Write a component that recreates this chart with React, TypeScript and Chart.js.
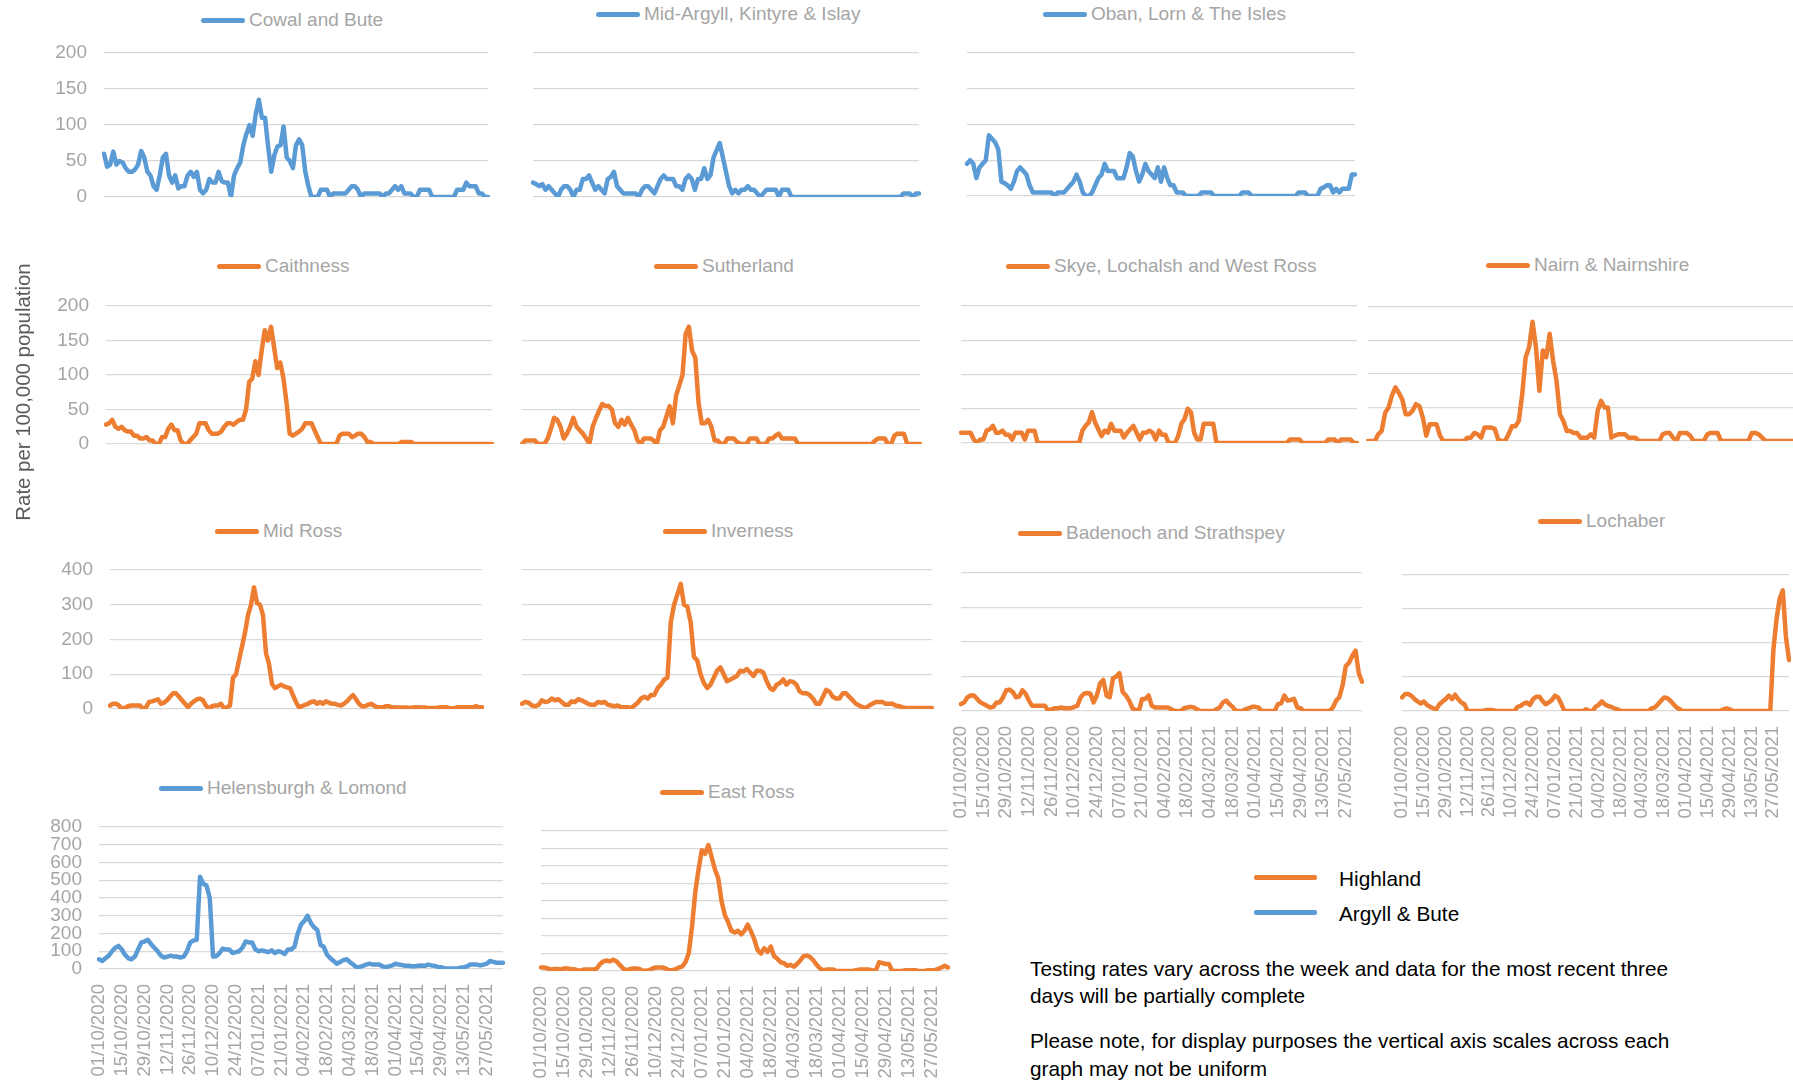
import React, { useEffect, useRef } from "react";
import { Chart, registerables } from "chart.js";

Chart.register(...registerables);

const FONT = '"Liberation Sans", Arial, Helvetica, sans-serif';
Chart.defaults.font.family = FONT;

const BLUE = "#5B9BD5";
const ORANGE = "#ED7D31";
const GRAY_TEXT = "#A5A5A5";
const GRID = "#D9D9D9";

// ---- categories: dates every 2 days from 01/10/2020 ----
const FIRST_DAY = Date.UTC(2020, 9, 1);
const DAY_STEP = 2;
const N_POINTS = 125;
const TICK_EVERY = 7; // fortnightly labels
const pad2 = (n: number) => String(n).padStart(2, "0");
const dateLabels: string[] = Array.from({ length: N_POINTS }, (_, i) => {
  const d = new Date(FIRST_DAY + i * DAY_STEP * 86400000);
  return `${pad2(d.getUTCDate())}/${pad2(d.getUTCMonth() + 1)}/${d.getUTCFullYear()}`;
});

// ---- series (rate per 100,000 population) ----
const cowalBute = [
  60, 42, 45, 63, 45, 50, 48, 40, 35, 35,
  38, 45, 64, 55, 35, 30, 15, 10, 30, 55,
  60, 30, 20, 30, 12, 15, 15, 30, 35, 28,
  35, 10, 5, 10, 25, 20, 20, 35, 22, 20,
  20, 0, 30, 40, 48, 72, 88, 100, 85, 115,
  135, 110, 110, 70, 35, 58, 70, 72, 98, 55,
  50, 40, 72, 80, 72, 35, 15, 0, 0, 0,
  10, 10, 10, 0, 5, 5, 5, 5, 5, 10,
  15, 15, 10, 0, 5, 5, 5, 5, 5, 5,
  0, 5, 5, 10, 15, 10, 15, 5, 5, 5,
  0, 0, 10, 10, 10, 10, 0, 0, 0, 0,
  0, 0, 0, 0, 10, 10, 10, 20, 15, 15,
  15, 5, 5, 0, 0,
];
const midArgyll = [
  20, 18, 15, 18, 10, 15, 10, 5, 0, 10,
  15, 15, 10, 0, 10, 10, 25, 25, 30, 20,
  10, 15, 10, 5, 25, 28, 35, 15, 10, 5,
  5, 5, 5, 5, 0, 10, 15, 15, 10, 5,
  15, 25, 30, 25, 25, 25, 15, 15, 10, 25,
  30, 25, 10, 25, 25, 40, 25, 30, 55, 65,
  75, 55, 35, 15, 5, 10, 5, 10, 10, 15,
  10, 10, 5, 0, 5, 10, 10, 10, 10, 0,
  10, 10, 10, 0, 0, 0, 0, 0, 0, 0,
  0, 0, 0, 0, 0, 0, 0, 0, 0, 0,
  0, 0, 0, 0, 0, 0, 0, 0, 0, 0,
  0, 0, 0, 0, 0, 0, 0, 0, 0, 5,
  5, 5, 0, 5, 5,
];
const obanLorn = [
  45, 50, 45, 25, 40, 45, 50, 85, 80, 75,
  65, 20, 18, 15, 10, 20, 35, 40, 35, 30,
  15, 5, 5, 5, 5, 5, 5, 5, 0, 5,
  5, 5, 10, 15, 20, 30, 20, 5, 0, 0,
  5, 15, 25, 30, 45, 35, 35, 35, 25, 25,
  25, 40, 60, 55, 35, 20, 30, 45, 35, 30,
  25, 40, 20, 40, 25, 15, 15, 5, 5, 5,
  0, 0, 0, 0, 0, 5, 5, 5, 5, 0,
  0, 0, 0, 0, 0, 0, 0, 0, 5, 5,
  5, 0, 0, 0, 0, 0, 0, 0, 0, 0,
  0, 0, 0, 0, 0, 0, 5, 5, 5, 0,
  0, 0, 0, 10, 12, 15, 15, 5, 10, 5,
  10, 10, 10, 30, 30,
];
const caithness = [
  28, 30, 35, 25, 22, 25, 20, 18, 18, 12,
  12, 8, 8, 10, 5, 5, 0, 0, 10, 10,
  22, 28, 20, 20, 5, 0, 0, 5, 10, 15,
  30, 30, 30, 20, 15, 15, 15, 18, 25, 30,
  30, 28, 32, 35, 35, 50, 90, 95, 120, 100,
  135, 165, 150, 170, 140, 110, 118, 95, 60, 15,
  12, 15, 18, 22, 30, 30, 30, 20, 10, 0,
  0, 0, 0, 0, 0, 12, 15, 15, 15, 10,
  12, 15, 15, 10, 3, 3, 0, 0, 0, 0,
  0, 0, 0, 0, 0, 3, 3, 3, 3, 0,
  0, 0, 0, 0, 0, 0, 0, 0, 0, 0,
  0, 0, 0, 0, 0, 0, 0, 0, 0, 0,
  0, 0, 0, 0, 0,
];
const sutherland = [
  0, 5, 5, 5, 5, 0, 0, 0, 8, 22,
  38, 35, 25, 8, 15, 25, 38, 25, 20, 15,
  8, 0, 25, 37, 48, 58, 55, 55, 50, 30,
  25, 35, 28, 38, 28, 20, 5, 0, 8, 8,
  8, 5, 0, 20, 25, 40, 55, 30, 70, 85,
  100, 160, 170, 135, 125, 60, 30, 30, 35, 25,
  5, 5, 0, 0, 8, 8, 8, 3, 0, 0,
  0, 8, 8, 8, 0, 0, 0, 8, 8, 12,
  15, 8, 8, 8, 8, 8, 0, 0, 0, 0,
  0, 0, 0, 0, 0, 0, 0, 0, 0, 0,
  0, 0, 0, 0, 0, 0, 0, 0, 0, 0,
  5, 8, 8, 8, 0, 0, 12, 15, 15, 15,
  0, 0, 0, 0, 0,
];
const skyeLochalsh = [
  15, 15, 15, 15, 5, 0, 5, 5, 18, 20,
  25, 15, 15, 18, 12, 12, 5, 15, 15, 15,
  5, 18, 18, 18, 0, 0, 0, 0, 0, 0,
  0, 0, 0, 0, 0, 0, 0, 0, 18, 25,
  30, 45, 30, 20, 10, 18, 15, 28, 18, 18,
  18, 8, 15, 20, 25, 15, 5, 15, 15, 18,
  15, 5, 18, 12, 12, 0, 0, 0, 10, 28,
  35, 50, 45, 15, 5, 5, 28, 28, 28, 28,
  0, 0, 0, 0, 0, 0, 0, 0, 0, 0,
  0, 0, 0, 0, 0, 0, 0, 0, 0, 0,
  0, 0, 0, 5, 5, 5, 5, 0, 0, 0,
  0, 0, 0, 0, 0, 5, 5, 5, 0, 5,
  5, 5, 5, 0, 0,
];
const nairn = [
  0, 0, 0, 10, 15, 42, 50, 68, 80, 72,
  62, 40, 40, 45, 55, 52, 35, 8, 25, 25,
  25, 8, 0, 0, 0, 0, 0, 0, 0, 5,
  5, 12, 10, 5, 20, 20, 20, 18, 2, 0,
  0, 10, 22, 22, 30, 70, 125, 140, 178, 140,
  75, 135, 125, 160, 120, 90, 40, 30, 15, 15,
  12, 12, 5, 5, 5, 10, 5, 45, 60, 50,
  50, 5, 8, 10, 10, 10, 5, 5, 5, 0,
  0, 0, 0, 0, 0, 0, 10, 12, 12, 5,
  0, 12, 12, 12, 8, 0, 0, 0, 0, 10,
  12, 12, 12, 0, 0, 0, 0, 0, 0, 0,
  0, 0, 12, 12, 10, 5, 0, 0, 0, 0,
  0, 0, 0, 0, 0,
];
const midRoss = [
  10, 15, 15, 10, 0, 3, 8, 10, 10, 10,
  10, 0, 5, 20, 22, 25, 28, 15, 18, 25,
  35, 45, 45, 35, 25, 15, 5, 15, 22, 28,
  30, 25, 10, 0, 8, 10, 10, 15, 2, 5,
  10, 90, 100, 140, 180, 220, 270, 300, 350, 305,
  300, 270, 160, 130, 72, 60, 65, 70, 65, 62,
  60, 40, 20, 5, 8, 12, 15, 20, 22, 15,
  20, 15, 22, 18, 15, 15, 12, 10, 15, 22,
  32, 40, 28, 15, 8, 8, 12, 15, 10, 5,
  5, 5, 8, 8, 5, 4, 4, 4, 4, 4,
  3, 4, 5, 4, 4, 4, 3, 3, 3, 3,
  5, 5, 5, 3, 2, 3, 5, 5, 5, 5,
  5, 5, 8, 5, 5,
];
const inverness = [
  15, 20, 18, 10, 8, 12, 25, 20, 22, 30,
  25, 28, 20, 12, 12, 22, 20, 28, 25, 20,
  15, 12, 12, 20, 18, 20, 12, 10, 8, 10,
  5, 5, 5, 2, 10, 18, 30, 35, 30, 40,
  40, 60, 70, 85, 90, 250, 300, 330, 360, 300,
  295, 250, 150, 140, 100, 75, 60, 70, 90, 110,
  120, 100, 80, 85, 90, 95, 110, 108, 115, 105,
  95, 110, 110, 105, 80, 60, 55, 70, 75, 85,
  70, 80, 78, 70, 50, 45, 45, 40, 30, 15,
  15, 35, 55, 50, 35, 30, 30, 45, 45, 35,
  25, 15, 10, 5, 3, 10, 15, 20, 20, 20,
  15, 15, 15, 10, 8, 5, 3, 3, 3, 3,
  3, 3, 3, 3, 3,
];
const badenoch = [
  20, 25, 40, 45, 45, 35, 25, 20, 15, 10,
  12, 25, 25, 40, 60, 62, 55, 40, 42, 60,
  50, 30, 15, 15, 15, 15, 15, 0, 5, 8,
  8, 10, 8, 8, 8, 12, 15, 40, 50, 52,
  50, 25, 45, 80, 90, 45, 40, 95, 100, 110,
  55, 45, 30, 8, 3, 0, 35, 35, 45, 15,
  10, 10, 10, 10, 10, 5, 0, 0, 0, 8,
  10, 12, 10, 5, 0, 0, 0, 0, 0, 5,
  10, 25, 30, 20, 12, 0, 0, 0, 5, 8,
  12, 12, 10, 0, 0, 0, 0, 0, 20, 22,
  45, 30, 32, 35, 10, 8, 0, 0, 0, 0,
  0, 0, 0, 0, 0, 10, 30, 40, 75, 130,
  140, 160, 175, 110, 85,
];
const lochaber = [
  40, 50, 50, 45, 35, 28, 22, 28, 18, 12,
  8, 5, 20, 28, 35, 45, 35, 48, 35, 25,
  20, 0, 0, 0, 0, 0, 0, 3, 3, 3,
  0, 0, 0, 0, 0, 0, 0, 12, 15, 22,
  25, 18, 35, 42, 42, 30, 20, 25, 32, 45,
  40, 22, 0, 0, 0, 0, 0, 0, 0, 5,
  0, 0, 12, 18, 28, 20, 15, 12, 8, 5,
  0, 0, 0, 0, 0, 0, 0, 0, 0, 0,
  8, 10, 20, 30, 40, 38, 30, 20, 10, 5,
  0, 0, 0, 0, 0, 0, 0, 0, 0, 0,
  0, 0, 0, 5, 8, 5, 0, 0, 0, 0,
  0, 0, 0, 0, 0, 0, 0, 0, 0, 180,
  270, 330, 355, 220, 150,
];
const helensburgh = [
  55, 45, 60, 75, 100, 120, 130, 110, 80, 60,
  55, 70, 110, 150, 155, 165, 140, 120, 100, 75,
  65, 70, 75, 70, 70, 65, 70, 100, 150, 160,
  165, 520, 480, 470, 400, 70, 72, 90, 115, 110,
  110, 90, 95, 100, 120, 155, 150, 150, 110, 100,
  105, 100, 95, 105, 90, 100, 95, 85, 110, 110,
  125, 200, 250, 270, 300, 260, 235, 220, 135, 125,
  80, 60, 45, 30, 40, 50, 55, 40, 25, 10,
  12, 18, 25, 30, 25, 25, 25, 15, 10, 15,
  20, 30, 25, 22, 18, 18, 15, 15, 18, 20,
  18, 25, 20, 18, 12, 10, 5, 3, 3, 3,
  3, 8, 10, 15, 25, 25, 25, 20, 25, 30,
  45, 40, 35, 35, 35,
];
const eastRoss = [
  20, 20, 15, 8, 12, 12, 8, 15, 15, 12,
  10, 5, 3, 8, 8, 8, 8, 15, 40, 55,
  60, 55, 65, 55, 35, 15, 5, 10, 15, 15,
  12, 2, 3, 5, 15, 20, 20, 20, 15, 5,
  5, 10, 20, 25, 50, 100, 250, 450, 580, 690,
  670, 720, 650, 580, 530, 400, 320, 280, 230, 220,
  230, 210, 230, 265, 225, 180, 120, 100, 130, 110,
  140, 85, 70, 50, 45, 30, 35, 25, 40, 60,
  85, 88, 80, 60, 35, 15, 5, 8, 8, 8,
  0, 0, 0, 0, 0, 0, 5, 8, 8, 8,
  8, 3, 3, 50, 45, 40, 40, 0, 0, 0,
  0, 5, 5, 5, 5, 0, 0, 0, 5, 5,
  5, 12, 20, 30, 20,
];

// ---- text ----
const Y_TITLE = "Rate per 100,000 population";
const LEGEND_ITEMS = ["Highland", "Argyll & Bute"];
const NOTES = [
  "Testing rates vary across the week and data for the most recent three",
  "days will be partially complete",
  "Please note, for display purposes the vertical axis scales across each",
  "graph may not be uniform",
];

// ---- layout of the small multiples (pixel geometry only) ----
type PanelCfg = {
  title: string;
  data: number[];
  color: string;
  x0: number; x1: number; y0: number; y1: number;
  yMax: number; step: number;
  yLabels: boolean; dates: boolean;
  lx: number; ly: number;
};

const PANELS: PanelCfg[] = [
  { title: "Cowal and Bute", data: cowalBute, color: BLUE, x0: 104, x1: 488, y0: 53, y1: 197, yMax: 200, step: 50, yLabels: true, dates: false, lx: 201, ly: 20 },
  { title: "Mid-Argyll, Kintyre & Islay", data: midArgyll, color: BLUE, x0: 533, x1: 919, y0: 53, y1: 197, yMax: 200, step: 50, yLabels: false, dates: false, lx: 596, ly: 14 },
  { title: "Oban, Lorn & The Isles", data: obanLorn, color: BLUE, x0: 967, x1: 1355, y0: 53, y1: 196, yMax: 200, step: 50, yLabels: false, dates: false, lx: 1043, ly: 14 },
  { title: "Caithness", data: caithness, color: ORANGE, x0: 106, x1: 492, y0: 306, y1: 444, yMax: 200, step: 50, yLabels: true, dates: false, lx: 217, ly: 266 },
  { title: "Sutherland", data: sutherland, color: ORANGE, x0: 522, x1: 920, y0: 306, y1: 444, yMax: 200, step: 50, yLabels: false, dates: false, lx: 654, ly: 266 },
  { title: "Skye, Lochalsh and West Ross", data: skyeLochalsh, color: ORANGE, x0: 961, x1: 1357, y0: 306, y1: 443, yMax: 200, step: 50, yLabels: false, dates: false, lx: 1006, ly: 266 },
  { title: "Nairn & Nairnshire", data: nairn, color: ORANGE, x0: 1368, x1: 1793, y0: 307, y1: 441, yMax: 200, step: 50, yLabels: false, dates: false, lx: 1486, ly: 265 },
  { title: "Mid Ross", data: midRoss, color: ORANGE, x0: 110, x1: 482, y0: 570, y1: 709, yMax: 400, step: 100, yLabels: true, dates: false, lx: 215, ly: 531 },
  { title: "Inverness", data: inverness, color: ORANGE, x0: 522, x1: 932, y0: 570, y1: 709, yMax: 400, step: 100, yLabels: false, dates: false, lx: 663, ly: 531 },
  { title: "Badenoch and Strathspey", data: badenoch, color: ORANGE, x0: 961, x1: 1362, y0: 573, y1: 711, yMax: 400, step: 100, yLabels: false, dates: true, lx: 1018, ly: 533 },
  { title: "Lochaber", data: lochaber, color: ORANGE, x0: 1402, x1: 1789, y0: 575, y1: 711, yMax: 400, step: 100, yLabels: false, dates: true, lx: 1538, ly: 521 },
  { title: "Helensburgh & Lomond", data: helensburgh, color: BLUE, x0: 99, x1: 503, y0: 827, y1: 969, yMax: 800, step: 100, yLabels: true, dates: true, lx: 159, ly: 788 },
  { title: "East Ross", data: eastRoss, color: ORANGE, x0: 541, x1: 948, y0: 831, y1: 971, yMax: 800, step: 100, yLabels: false, dates: true, lx: 660, ly: 792 },
];

const PAD_T = 8;
const PAD_R = 14;
const PAD_B = 8;
const DATE_H = 125;
const YLAB_W = 90;
const YNOLAB_W = 4;
const YDATE_W = 20;

function Panel({ cfg }: { cfg: PanelCfg }) {
  const ref = useRef<HTMLCanvasElement>(null);
  const yW = cfg.yLabels ? YLAB_W : cfg.dates ? YDATE_W : YNOLAB_W;
  const left = cfg.x0 - yW;
  const top = cfg.y0 - PAD_T;
  const width = cfg.x1 - cfg.x0 + yW + PAD_R;
  const height = cfg.y1 - cfg.y0 + PAD_T + (cfg.dates ? DATE_H : PAD_B);

  useEffect(() => {
    if (!ref.current) return;
    const chart = new Chart(ref.current, {
      type: "line",
      data: {
        labels: dateLabels,
        datasets: [
          {
            data: cfg.data,
            borderColor: cfg.color,
            backgroundColor: cfg.color,
            borderWidth: 4.5,
            pointRadius: 0,
            tension: 0,
            fill: false,
            borderJoinStyle: "round",
            borderCapStyle: "round",
          },
        ],
      },
      options: {
        responsive: false,
        maintainAspectRatio: false,
        animation: false,
        devicePixelRatio: 1,
        events: [],
        layout: {
          padding: { left: 0, right: PAD_R, top: PAD_T, bottom: cfg.dates ? 0 : PAD_B },
        },
        plugins: { legend: { display: false }, tooltip: { enabled: false }, title: { display: false } },
        scales: {
          x: {
            display: cfg.dates,
            grid: { display: false },
            border: { display: false },
            ticks: {
              autoSkip: false,
              minRotation: 90,
              maxRotation: 90,
              padding: 7,
              color: GRAY_TEXT,
              font: { size: 18.5, family: FONT },
            },
            afterBuildTicks: (s: any) => {
              s.ticks = s.ticks.filter((t: any) => t.value % TICK_EVERY === 0);
            },
            afterFit: (s: any) => {
              s.height = cfg.dates ? DATE_H : 0;
              s.paddingLeft = 0;
              s.paddingRight = 0;
            },
          },
          y: {
            min: 0,
            max: cfg.yMax,
            grid: { color: GRID, lineWidth: 1.3, drawTicks: false },
            border: { display: false },
            ticks: {
              display: cfg.yLabels,
              stepSize: cfg.step,
              autoSkip: false,
              padding: 17,
              color: GRAY_TEXT,
              font: { size: 19, family: FONT },
            },
            afterFit: (s: any) => {
              s.width = yW;
              s.paddingTop = 0;
              s.paddingBottom = 0;
            },
          },
        },
      },
    } as any);
    return () => chart.destroy();
  }, [cfg]);

  return (
    <canvas
      ref={ref}
      width={width}
      height={height}
      style={{ position: "absolute", left, top, width, height, display: "block" }}
    />
  );
}

function PanelTitle({ cfg }: { cfg: PanelCfg }) {
  return (
    <div
      style={{
        position: "absolute",
        left: cfg.lx,
        top: cfg.ly - 12,
        height: 24,
        display: "flex",
        alignItems: "center",
        whiteSpace: "nowrap",
      }}
    >
      <span
        style={{
          display: "inline-block",
          width: 44,
          height: 5,
          borderRadius: 3,
          background: cfg.color,
          marginRight: 4,
        }}
      />
      <span style={{ fontSize: 19, color: GRAY_TEXT, lineHeight: "24px", fontFamily: FONT }}>{cfg.title}</span>
    </div>
  );
}

export default function App() {
  return (
    <div
      style={{
        position: "absolute",
        left: 0,
        top: 0,
        width: 1793,
        height: 1082,
        overflow: "hidden",
        background: "#ffffff",
        fontFamily: FONT,
      }}
    >
      {PANELS.map((p) => (
        <Panel key={p.title} cfg={p} />
      ))}
      {PANELS.map((p) => (
        <PanelTitle key={"t-" + p.title} cfg={p} />
      ))}

      {/* vertical axis title */}
      <div
        style={{
          position: "absolute",
          left: 23 - 160,
          top: 392 - 13,
          width: 320,
          height: 26,
          lineHeight: "26px",
          textAlign: "center",
          fontSize: 20.4,
          color: "#595959",
          transform: "rotate(-90deg)",
          transformOrigin: "50% 50%",
          whiteSpace: "nowrap",
        }}
      >
        {Y_TITLE}
      </div>

      {/* legend */}
      {LEGEND_ITEMS.map((name, i) => {
        const cy = i === 0 ? 877 : 912;
        const col = i === 0 ? ORANGE : BLUE;
        return (
          <React.Fragment key={name}>
            <div
              style={{
                position: "absolute",
                left: 1254,
                top: cy - 2.5,
                width: 63,
                height: 5,
                borderRadius: 2,
                background: col,
              }}
            />
            <div
              style={{
                position: "absolute",
                left: 1339,
                top: cy + 2 - 13,
                height: 26,
                lineHeight: "26px",
                fontSize: 20.8,
                color: "#000",
                whiteSpace: "nowrap",
              }}
            >
              {name}
            </div>
          </React.Fragment>
        );
      })}

      {/* notes */}
      {NOTES.map((line, i) => {
        const cy = [969, 996, 1041, 1069][i];
        return (
          <div
            key={i}
            style={{
              position: "absolute",
              left: 1030,
              top: cy - 13,
              height: 26,
              lineHeight: "26px",
              fontSize: 20.8,
              color: "#000",
              whiteSpace: "nowrap",
            }}
          >
            {line}
          </div>
        );
      })}
    </div>
  );
}
